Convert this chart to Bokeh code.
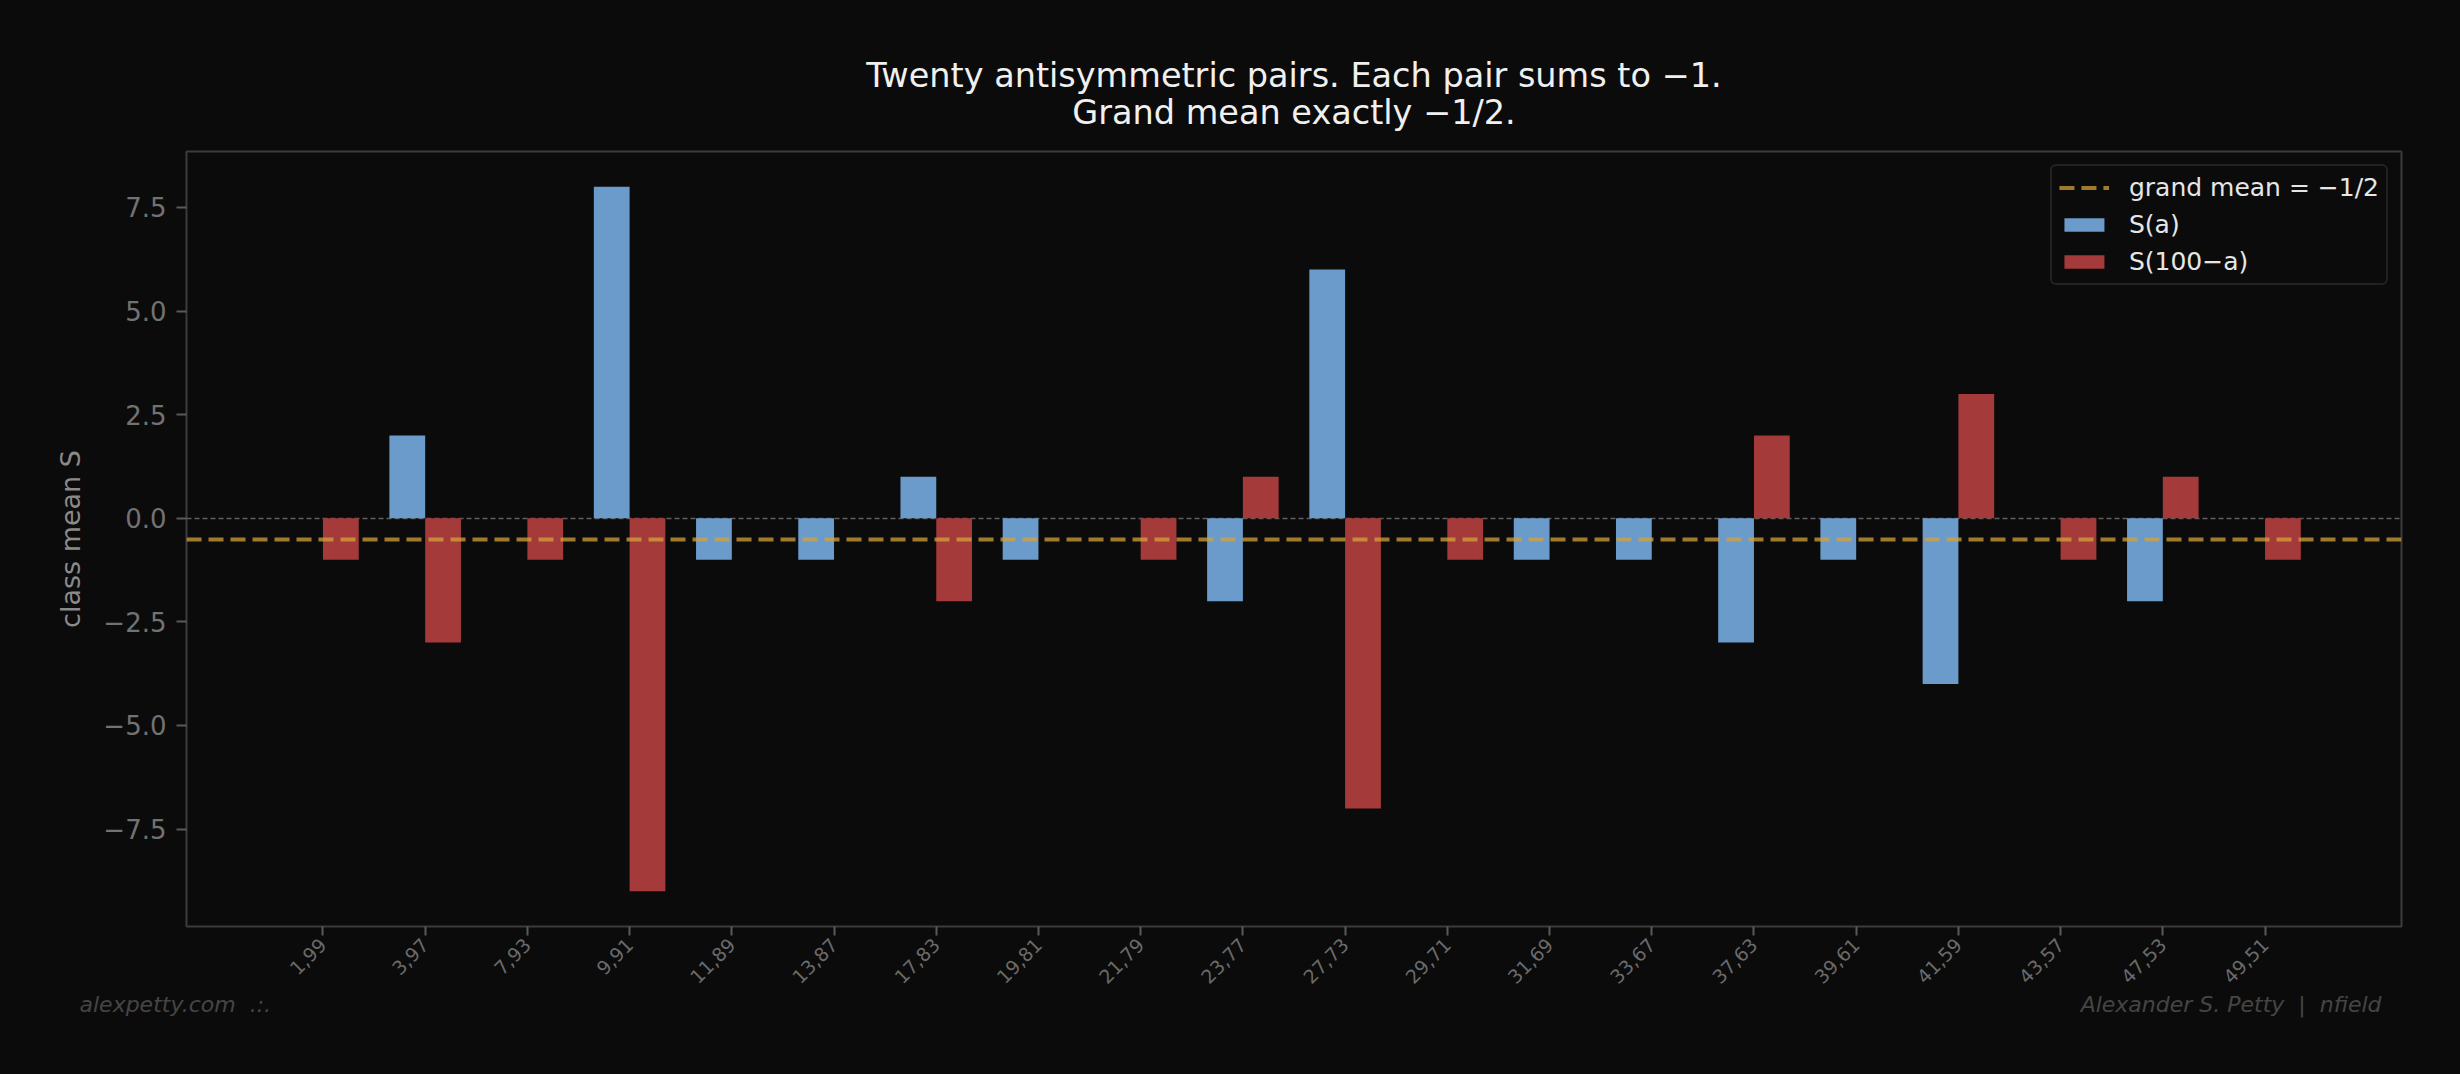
import numpy as np
from bokeh.plotting import figure
from bokeh.layouts import column
from bokeh.models import (ColumnDataSource, Range1d, FixedTicker, Legend,
                          LegendItem)
from bokeh.transform import dodge
from bokeh.core.properties import value
from bokeh.embed import file_html
from bokeh.resources import INLINE

# ---------------- data ----------------
pair_labels = ["1,99", "3,97", "7,93", "9,91", "11,89", "13,87", "17,83",
               "19,81", "21,79", "23,77", "27,73", "29,71", "31,69", "33,67",
               "37,63", "39,61", "41,59", "43,57", "47,53", "49,51"]
s_a = [0, 2, 0, 8, -1, -1, 1, -1, 0, -2, 6, 0, -1, -1, -3, -1, -4, 0, -2, 0]
s_b = [-1, -3, -1, -9, 0, 0, -2, 0, -1, 1, -7, -1, 0, 0, 2, 0, 3, -1, 1, -1]
grand_mean = [-0.5]
zero_level = [0.0]
y_ticks = [-7.5, -5, -2.5, 0, 2.5, 5, 7.5]
y_tick_labels = ["\u22127.5", "\u22125.0", "\u22122.5", "0.0", "2.5", "5.0", "7.5"]
title_lines = ["Twenty antisymmetric pairs. Each pair sums to \u22121.",
               "Grand mean exactly \u22121/2."]
legend_labels = ["grand mean = \u22121/2", "S(a)", "S(100\u2212a)"]
footer_left = "alexpetty.com \u00a0.:."
footer_right = "Alexander S. Petty \u00a0|\u00a0 nfield"
y_label = "class mean S"

FONT = "DejaVu Sans"
BG = "#0b0b0b"
BLUE = "#6b9bcb"
RED = "#a53a3a"
GOLD = "#d4a23a"

W = 2460
HEAD_H, MAIN_H, FOOT_H = 138, 854, 82
L, R, T, B = 186, 59, 13, 63


def no_align(f):
    if "frame_align" in f.properties():
        f.frame_align = False


def blank(h):
    f = figure(width=W, height=h, output_backend="svg", toolbar_location=None,
               x_range=Range1d(0, W), y_range=Range1d(h, 0),
               x_axis_type=None, y_axis_type=None,
               background_fill_color=BG, border_fill_color=BG,
               min_border=0, min_border_left=0, min_border_right=0,
               min_border_top=0, min_border_bottom=0)
    f.grid.visible = False
    f.outline_line_color = None
    no_align(f)
    return f


# ---------------- header (title) ----------------
head = blank(HEAD_H)
cx = L + (W - L - R) / 2
head.text(x=[cx, cx], y=[75, 112], text=title_lines,
          text_align="center", text_baseline="alphabetic",
          text_font=value(FONT), text_font_size="33.5px", text_color="#f0f0f0")

# ---------------- main chart ----------------
idx = list(range(len(pair_labels)))
src = ColumnDataSource(dict(x=idx, a=s_a, b=s_b))

fig = figure(width=W, height=MAIN_H, output_backend="svg", toolbar_location=None,
             x_range=Range1d(-1.335, len(idx) - 1 + 1.335),
             y_range=Range1d(-9.85, 8.85),
             min_border_left=L, min_border_right=R,
             min_border_top=T, min_border_bottom=B,
             background_fill_color=BG, border_fill_color=BG)
no_align(fig)
fig.grid.visible = False
fig.outline_line_color = "#3c3c3c"
fig.outline_line_width = 2

fig.hspan(y=zero_level, line_color="#5e5e5e", line_width=1.5, line_dash="5 3")

bw = 0.35
r_a = fig.vbar(x=dodge("x", -bw / 2, range=fig.x_range), top="a", bottom=0,
               width=bw, source=src, fill_color=BLUE, line_color=None)
r_b = fig.vbar(x=dodge("x", bw / 2, range=fig.x_range), top="b", bottom=0,
               width=bw, source=src, fill_color=RED, line_color=None)
r_m = fig.hspan(y=grand_mean, line_color=GOLD, line_alpha=0.75, line_width=4,
                line_dash="15 7")

for ax in (fig.xaxis[0], fig.yaxis[0]):
    ax.axis_line_color = None
    ax.major_tick_line_color = "#5a5a5a"
    ax.major_tick_line_width = 2
    ax.major_tick_in = 0
    ax.minor_tick_line_color = None
    ax.major_label_text_font = FONT
    ax.major_label_text_color = "#727272"

fig.xaxis.ticker = FixedTicker(ticks=idx)
fig.xaxis.major_label_overrides = {i: s for i, s in zip(idx, pair_labels)}
fig.xaxis.major_label_orientation = np.pi / 4
fig.xaxis.major_label_text_font_size = "19px"
fig.xaxis.major_label_text_color = "#6a6a6a"
fig.xaxis.major_tick_out = 9
fig.xaxis.major_label_standoff = 6

fig.yaxis.ticker = FixedTicker(ticks=y_ticks)
fig.yaxis.major_label_overrides = {t: s for t, s in zip(y_ticks, y_tick_labels)}
fig.yaxis.major_label_text_font_size = "26px"
fig.yaxis.major_tick_out = 10
fig.yaxis.major_label_standoff = 10
fig.yaxis.axis_label = y_label
fig.yaxis.axis_label_text_font = FONT
fig.yaxis.axis_label_text_font_size = "27px"
fig.yaxis.axis_label_text_font_style = "normal"
fig.yaxis.axis_label_text_color = "#8a8a8a"
fig.yaxis.axis_label_standoff = 14

legend = Legend(items=[LegendItem(label=legend_labels[0], renderers=[r_m]),
                       LegendItem(label=legend_labels[1], renderers=[r_a]),
                       LegendItem(label=legend_labels[2], renderers=[r_b])],
                location="top_right", margin=13, padding=7, spacing=8,
                glyph_width=50, glyph_height=17, label_standoff=20,
                label_text_font=FONT, label_text_font_size="25px",
                label_text_color="#e6e6e6",
                border_line_color="#3a3a3a", border_line_width=2,
                background_fill_color=BG, background_fill_alpha=1.0)
if "border_radius" in Legend.properties():
    legend.border_radius = 6
fig.add_layout(legend)

# ---------------- footer ----------------
foot = blank(FOOT_H)
foot.text(x=[79], y=[12], text=[footer_left], text_align="left",
          text_baseline="alphabetic", text_font=value(FONT),
          text_font_size="22px", text_font_style="italic", text_color="#454545")
foot.text(x=[2381], y=[12], text=[footer_right], text_align="right",
          text_baseline="alphabetic", text_font=value(FONT),
          text_font_size="22px", text_font_style="italic", text_color="#454545")

p = column(head, fig, foot, spacing=0, styles={"background-color": BG})
try:
    from bokeh.models import GlobalInlineStyleSheet
    p.stylesheets = [GlobalInlineStyleSheet(css="html, body { background-color: #0b0b0b; }")]
except Exception:
    pass

open("out.html", "w").write(file_html(p, INLINE))
